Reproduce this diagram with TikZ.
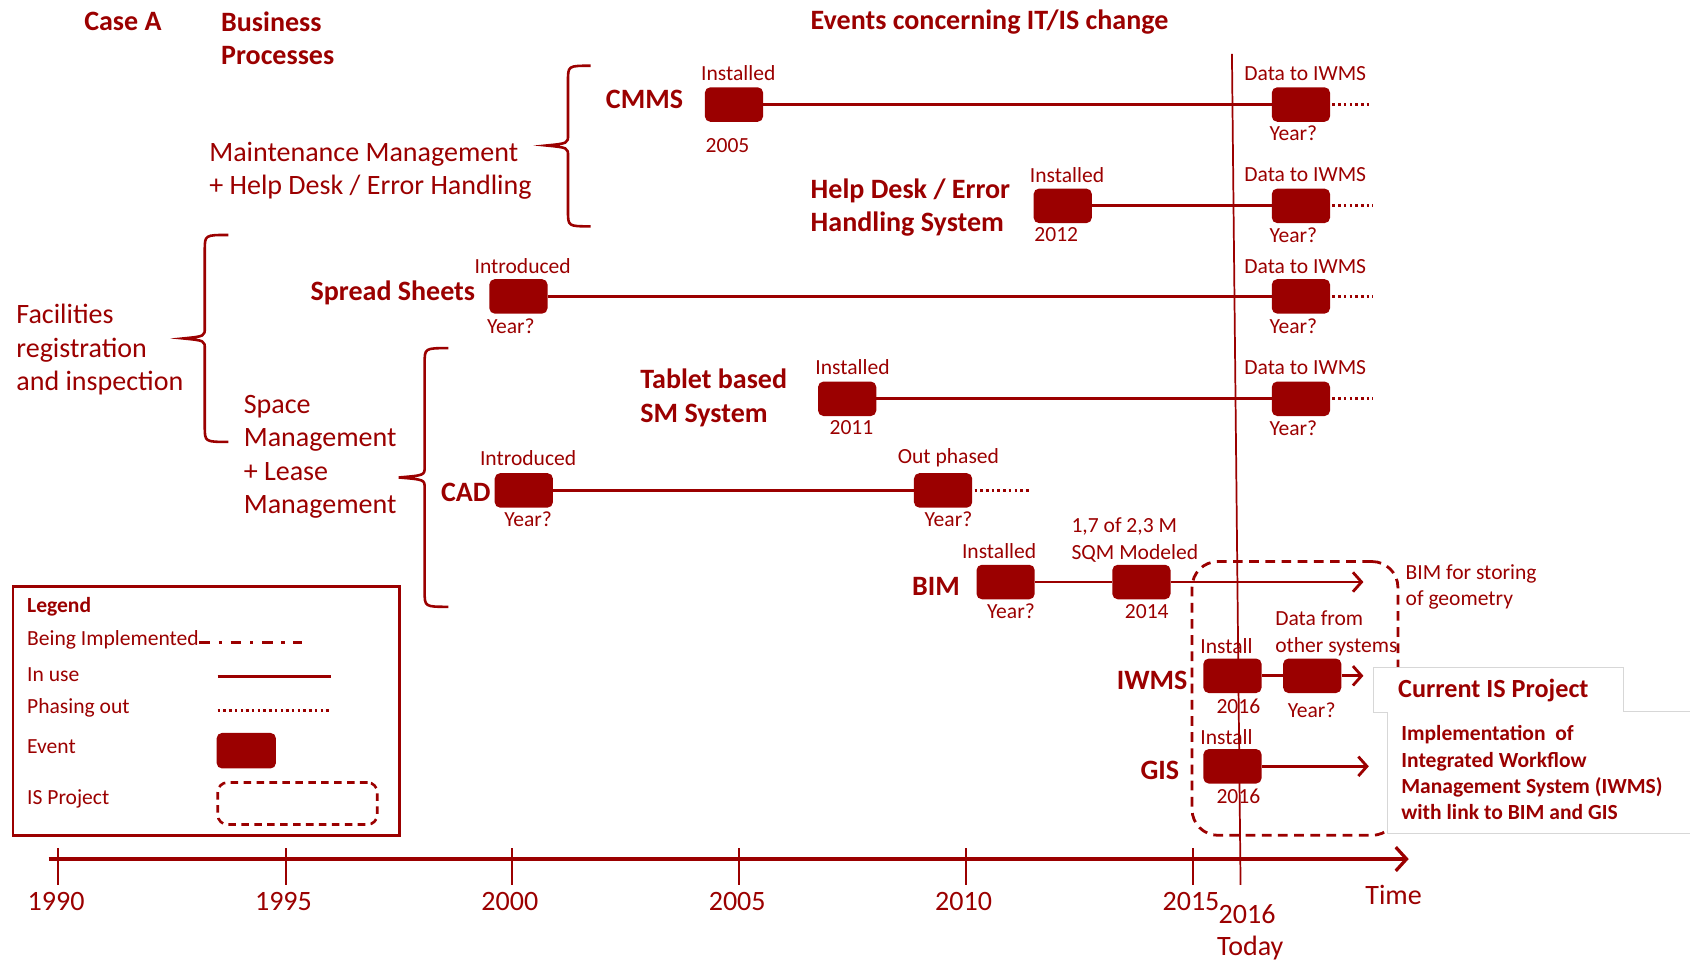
\documentclass[tikz,border=0pt]{standalone}
\usepackage{fontspec}
\setmainfont{Carlito}
\usetikzlibrary{arrows.meta}
\definecolor{dred}{RGB}{155,0,0}
\definecolor{cgray}{RGB}{215,215,215}
\newcommand\fbig{\fontsize{26}{31}\selectfont}
\newcommand\fsm{\fontsize{20}{24.5}\selectfont}
\newcommand\fleg{\fontsize{20}{23}\selectfont}
\newcommand\fcis{\fontsize{24.3}{29}\selectfont}
\newcommand\mybrace[6]{%
  \draw[bracestyle] (#4,#5) .. controls (#3,#5) .. (#3,#5+14) -- (#3,#2-10)
    .. controls (#3,#2-2) .. (#1,#2) .. controls (#3,#2+2) .. (#3,#2+10)
    -- (#3,#6-14) .. controls (#3,#6) .. (#4,#6);}
\tikzset{
  txt/.style={inner sep=0pt, text=dred},
  bigt/.style={txt, font=\fbig, anchor=west, align=left},
  bigb/.style={txt, font=\fbig\bfseries, anchor=west, align=left},
  lab/.style={txt, font=\fsm, align=left},
  legt/.style={txt, font=\fleg, anchor=west},
  yr/.style={txt, font=\fbig},
  evbox/.style={fill=dred, rounded corners=5pt, minimum width=54pt, minimum height=32pt, inner sep=0pt},
  conn/.style={draw=dred, line width=2.6pt},
  tail/.style={draw=dred, line width=2.6pt, dash pattern=on 2.4pt off 2.9pt},
  arr/.style={conn, -{Straight Barb[length=8pt,width=18pt]}},
  bracestyle/.style={draw=dred, line width=2.4pt},
  tickl/.style={draw=dred, line width=1.7pt},
}
\begin{document}
\begin{tikzpicture}[x=1pt,y=-1pt]
\useasboundingbox (0,0) rectangle (1568,893);

% today line
\coordinate (tTop) at (1143,50);
\coordinate (tBot) at (1151,821);
\draw[draw=dred, line width=1.6pt] (tTop) -- (tBot);

% headers
\node[bigb] (caseA) at (78,20) {Case A};
\node[bigb] (bp) at (205,35.5) {Business\\Processes};
\node[bigb] (evh) at (752,20) {Events concerning IT/IS change};

% processes
\node[bigt] (mm) at (194,158.5) {Maintenance Management\\+ Help Desk / Error Handling};
\node[bigt] (fri) at (15,324.5) {Facilities\\registration\\and inspection};
\node[bigt] (spm) at (226,424) {Space\\Management\\+ Lease\\Management};

% braces
\mybrace{507}{135}{527}{548}{61}{210}
\mybrace{170}{314}{190}{212}{218}{410}
\mybrace{370}{443}{394}{416}{323}{563}

% system names
\node[bigb] (cmms) at (562,92) {CMMS};
\node[bigb] (hd) at (752,192.5) {Help Desk / Error\\Handling System};
\node[bigb] (ss) at (288,272) {Spread Sheets};
\node[bigb] (tab) at (594,369) {Tablet based\\SM System};
\node[bigb] (cad) at (409,457) {CAD};
\node[bigb] (bim) at (846,544) {BIM};
\node[bigb] (iwms) at (1036,631) {IWMS};
\node[bigb] (gis) at (1058,715) {GIS};

% IS project box
\node[draw=dred, line width=2.6pt, dash pattern=on 9pt off 6pt, rounded corners=24pt,
      minimum width=191pt, minimum height=254pt] (isp) at (1201.5,648) {};

% event boxes
\node[evbox] (e1) at (681,97) {};
\node[evbox] (e2) at (1207,97) {};
\node[evbox] (e3) at (986,191) {};
\node[evbox] (e4) at (1207,191) {};
\node[evbox] (e5) at (481,275) {};
\node[evbox] (e6) at (1207,275) {};
\node[evbox] (e7) at (786,370) {};
\node[evbox] (e8) at (1207,370) {};
\node[evbox] (e9) at (486,455) {};
\node[evbox] (e10) at (875,455) {};
\node[evbox] (e11) at (933,540) {};
\node[evbox] (e12) at (1059,540) {};
\node[evbox] (e13) at (1143.5,627) {};
\node[evbox] (e14) at (1217.5,627) {};
\node[evbox] (e15) at (1143.5,711) {};

% tail coordinates
\coordinate (t2) at (1270,97);
\coordinate (t4) at (1274,191);
\coordinate (t6) at (1274,275);
\coordinate (t8) at (1274,370);
\coordinate (t10) at (957,455);
\coordinate (a12) at (1265,540);
\coordinate (a14) at (1265,627);
\coordinate (a15) at (1270,711);

% connectors
\draw[conn] (e1) -- (e2);
\draw[conn] (e3) -- (e4);
\draw[conn] (e5) -- (e6);
\draw[conn] (e7) -- (e8);
\draw[conn] (e9) -- (e10);
\draw[conn] (e11) -- (e12);
\draw[conn] (e13) -- (e14);
\draw[tail] ([xshift=2pt]e2.east) -- (t2);
\draw[tail] ([xshift=2pt]e4.east) -- (t4);
\draw[tail] ([xshift=2pt]e6.east) -- (t6);
\draw[tail] ([xshift=2pt]e8.east) -- (t8);
\draw[tail] ([xshift=2pt]e10.east) -- (t10);
\draw[arr] (e12) -- (a12);
\draw[arr] (e14) -- (a14);
\draw[arr] (e15) -- (a15);

% event labels
\node[lab] (l1a) at (685,68) {Installed};
\node[lab] (l1b) at (675,135) {2005};
\node[lab] (l2a) at (1211,68) {Data to IWMS};
\node[lab] (l2b) at (1200,124) {Year?};
\node[lab] (l3a) at (990,162) {Installed};
\node[lab] (l3b) at (980,218) {2012};
\node[lab] (l4a) at (1211,162) {Data to IWMS};
\node[lab] (l4b) at (1200,218) {Year?};
\node[lab] (l5a) at (485,247) {Introduced};
\node[lab] (l5b) at (474,303) {Year?};
\node[lab] (l6a) at (1211,247) {Data to IWMS};
\node[lab] (l6b) at (1200,303) {Year?};
\node[lab] (l7a) at (791,341) {Installed};
\node[lab] (l7b) at (790,397) {2011};
\node[lab] (l8a) at (1211,341) {Data to IWMS};
\node[lab] (l8b) at (1200,397) {Year?};
\node[lab] (l9a) at (490,425) {Introduced};
\node[lab] (l9b) at (490,482) {Year?};
\node[lab] (l10a) at (880,425) {Out phased};
\node[lab] (l10b) at (880,482) {Year?};
\node[lab] (l11a) at (927,511) {Installed};
\node[lab] (l11b) at (938,567) {Year?};
\node[lab, anchor=west] (l12a) at (994,501) {1,7 of 2,3 M\\SQM Modeled};
\node[lab] (l12b) at (1064,567) {2014};
\node[lab] (l13a) at (1138,599) {Install};
\node[lab] (l13b) at (1149,655) {2016};
\node[lab, anchor=west] (l14a) at (1183,587.5) {Data from\\other systems};
\node[lab] (l14b) at (1217,659) {Year?};
\node[lab] (l15a) at (1138,684) {Install};
\node[lab] (l15b) at (1149,739) {2016};
\node[lab, anchor=west] (bimst) at (1304,544.5) {BIM for storing\\of geometry};

% callout
\path[fill=white, draw=cgray, line width=1pt] (1274,619) -- (1506,619) -- (1506,660) -- (1590,660)
  -- (1590,773) -- (1287,773) -- (1287,661) -- (1274,661) -- cycle;
\node[txt, font=\fcis\bfseries, anchor=west] (cis) at (1297,641) {Current IS Project};
\node[txt, font=\fsm\bfseries, anchor=west, align=left] (cisd) at (1300,717)
  {Implementation\ \ of\\Integrated Workflow\\Management System (IWMS)\\with link to BIM and GIS};

% legend
\node[draw=dred, line width=2.6pt, minimum width=359pt, minimum height=231pt, inner sep=0pt] (leg) at (191.5,659.5) {};
\node[legt, font=\fleg\bfseries] (legh) at (25,563) {Legend};
\node[legt] (lg1) at (25,594) {Being Implemented};
\node[legt] (lg2) at (25,626) {In use};
\node[legt] (lg3) at (25,657) {Phasing out};
\node[legt] (lg4) at (25,693) {Event};
\node[legt] (lg5) at (25,741) {IS Project};
\coordinate (lb1) at (185,596); \coordinate (le1) at (280,596);
\coordinate (lb2) at (202,628); \coordinate (le2) at (307,628);
\coordinate (lb3) at (202,659); \coordinate (le3) at (307,659);
\draw[draw=dred, line width=2.6pt, dash pattern=on 10pt off 8pt on 3pt off 8pt] (lb1) -- (le1);
\draw[conn] (lb2) -- (le2);
\draw[draw=dred, line width=2.5pt, dash pattern=on 2.3pt off 3pt] (lb3) -- (le3);
\node[evbox, minimum width=55pt, minimum height=33pt] (legev) at (228.5,696.5) {};
\node[draw=dred, line width=2.4pt, dash pattern=on 7pt off 5pt, rounded corners=9pt,
      minimum width=148pt, minimum height=39pt] (legis) at (276,745.5) {};

% time axis
\coordinate (ax0) at (45,797);
\coordinate (ax1) at (1307,797);
\draw[draw=dred, line width=3pt, -{Straight Barb[length=10pt,width=22pt]}] (ax0) -- (ax1);
\foreach \x/\n in {54/1990,265/1995,475/2000,686/2005,896/2010,1107/2015}{
  \draw[tickl] (\x,787) -- (\x,821);
  \node[yr] (y\n) at (\x-2,836) {\n};
}
\node[yr] (y2016) at (1157,848) {2016};
\node[yr] (today) at (1160,880) {Today};
\node[yr] (time) at (1293,830) {Time};
\end{tikzpicture}
\end{document}
